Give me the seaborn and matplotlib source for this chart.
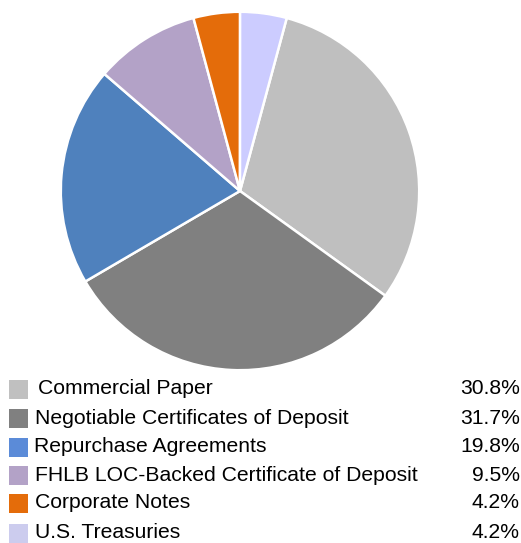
import matplotlib
matplotlib.use("Agg")
import matplotlib.pyplot as plt
import seaborn as sns
from matplotlib.patches import Rectangle

categories = ["Commercial Paper", "Negotiable Certificates of Deposit", "Repurchase Agreements",
              "FHLB LOC-Backed Certificate of Deposit", "Corporate Notes", "U.S. Treasuries"]
values = [30.8, 31.7, 19.8, 9.5, 4.2, 4.2]
labels = ["30.8%", "31.7%", "19.8%", "9.5%", "4.2%", "4.2%"]
pie_colors = ["#BFBFBF", "#808080", "#4F81BD", "#B3A2C7", "#E46C0A", "#CCCCFF"]
legend_colors = ["#C0C0C0", "#808080", "#5B8BD8", "#B3A2C7", "#E46C0A", "#CCCCEE"]

sns.set_style("white")
plt.rcParams['font.family'] = ['Liberation Sans', 'DejaVu Sans']

W, H = 521, 543
fig = plt.figure(figsize=(W / 100, H / 100), dpi=100)

cx, cy, r = 240, 191, 181
ax = fig.add_axes([(cx - r) / W, (H - cy - r) / H, 2 * r / W, 2 * r / H])
palette = sns.color_palette(pie_colors)
ax.pie(values, colors=palette, startangle=90 - values[-1] * 3.6, counterclock=False,
       radius=1.0, wedgeprops=dict(edgecolor="white", linewidth=1.8))
ax.set_xlim(-1.01, 1.01)
ax.set_ylim(-1.01, 1.01)
ax.set_aspect("equal")
ax.axis("off")

row_y = [389, 418, 447, 475.5, 503, 533]
text_x = [38, 35, 34, 35, 35, 35]
for i, (cat, lab) in enumerate(zip(categories, labels)):
    y = row_y[i]
    sq = 19
    fig.patches.append(Rectangle((9 / W, (H - y - sq / 2) / H), sq / W, sq / H,
                                 transform=fig.transFigure, facecolor=legend_colors[i],
                                 edgecolor="none"))
    fig.text(text_x[i] / W, (H - y) / H, cat, ha="left", va="center", fontsize=15.2, color="#000000")
    fig.text(520 / W, (H - y) / H, lab, ha="right", va="center", fontsize=15.2, color="#000000")

fig.savefig("out.png", dpi=100)
